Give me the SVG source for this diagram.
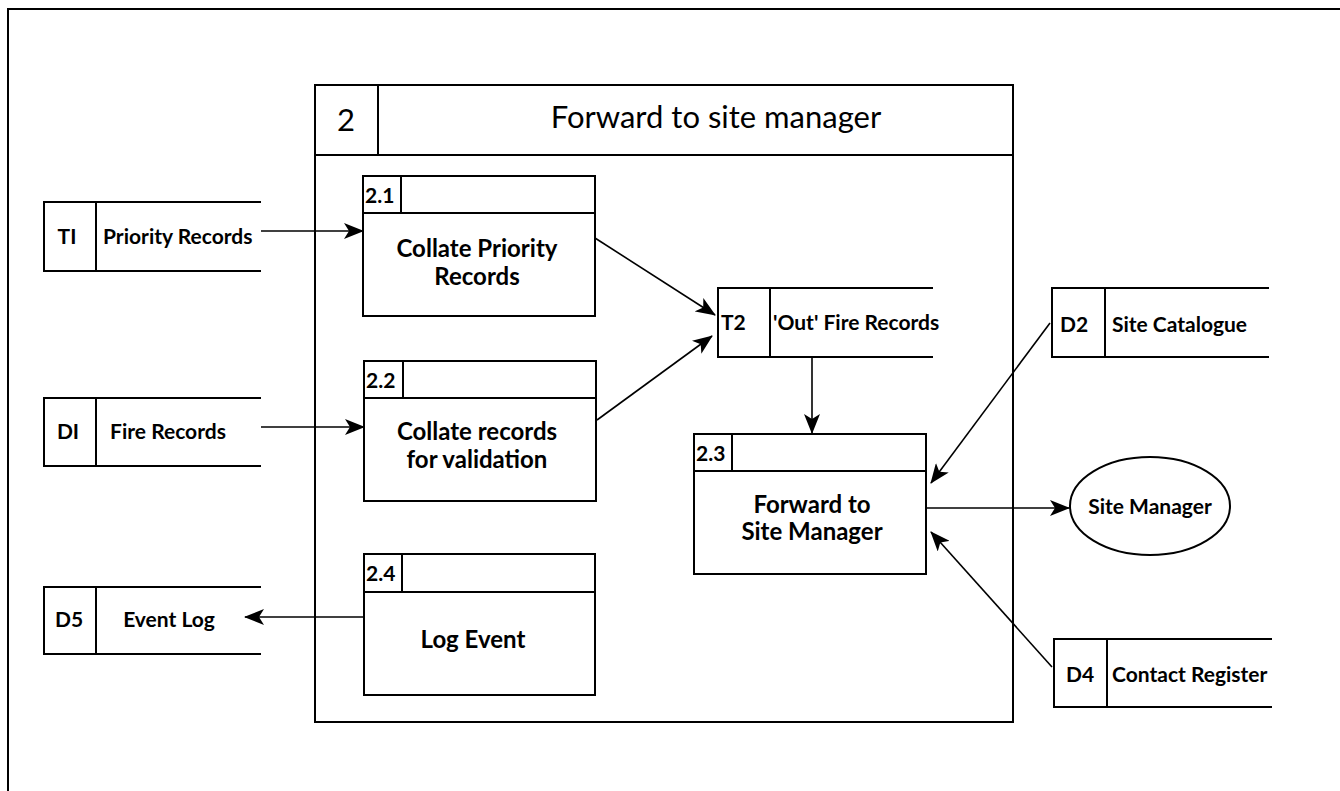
<svg xmlns="http://www.w3.org/2000/svg" width="1340" height="791" viewBox="0 0 1340 791">
<defs>
<style>
.b{fill:#fff;stroke:#000;stroke-width:2}
.l{fill:none;stroke:#000;stroke-width:2}
.c{fill:none;stroke:#000;stroke-width:1.6}
.t{font-family:Lato,"Open Sans",sans-serif;font-weight:bold;font-size:21px;fill:#000}
.p{font-size:24px}
.m{text-anchor:middle}
.h{font-family:Lato,"Open Sans",sans-serif;font-size:31px;fill:#000}
</style>
<marker id="a" viewBox="0 0 20 16" refX="19" refY="8" markerWidth="20" markerHeight="16" markerUnits="userSpaceOnUse" orient="auto">
<path d="M0,0 L20,8 L0,16 L5,8 Z" fill="#000"/>
</marker>
</defs>
<rect width="1340" height="791" fill="#fff"/>
<path class="l" d="M8,791 V9 H1340"/>

<g id="process-2">
<rect class="b" x="315" y="85" width="698" height="637"/>
<line class="l" x1="315" y1="155" x2="1013" y2="155" stroke-width="2.5"/>
<line class="l" x1="378" y1="85" x2="378" y2="155"/>
<text class="h m" x="346" y="131">2</text>
<text class="h m" x="716" y="128">Forward to site manager</text>
</g>

<g id="T1">
<path class="l" d="M261,202 H44 V271 H261 M96,202 V271"/>
<text class="t m" x="67" y="244">TI</text>
<text class="t" x="103" y="244">Priority Records</text>
</g>
<g id="D1">
<path class="l" d="M261,398 H44 V466 H261 M96,398 V466"/>
<text class="t m" x="68" y="439">DI</text>
<text class="t m" x="168" y="439">Fire Records</text>
</g>
<g id="D5">
<path class="l" d="M261,587 H44 V654 H261 M96,587 V654"/>
<text class="t m" x="69" y="627">D5</text>
<text class="t m" x="169" y="627">Event Log</text>
</g>

<g id="p2-1">
<rect class="b" x="363" y="176" width="232" height="140"/>
<path class="l" d="M363,213 H595 M401,176 V213"/>
<text class="t" x="365" y="203">2.1</text>
<text class="t p m" x="477" y="257">Collate Priority</text>
<text class="t p m" x="477" y="285">Records</text>
</g>
<g id="p2-2">
<rect class="b" x="364" y="361" width="232" height="140"/>
<path class="l" d="M364,398 H596 M403,361 V398"/>
<text class="t" x="366" y="388">2.2</text>
<text class="t p m" x="477" y="440">Collate records</text>
<text class="t p m" x="477" y="468">for validation</text>
</g>
<g id="p2-4">
<rect class="b" x="364" y="554" width="231" height="141"/>
<path class="l" d="M364,592 H595 M402,554 V592"/>
<text class="t" x="366" y="581">2.4</text>
<text class="t p m" x="473" y="648">Log Event</text>
</g>

<g id="T2">
<path class="l" d="M933,288 H718 V357 H933 M770,288 V357"/>
<text class="t" x="721" y="330">T2</text>
<text class="t" x="773" y="330">'Out' Fire Records</text>
</g>
<g id="p2-3">
<rect class="b" x="694" y="434" width="232" height="140"/>
<path class="l" d="M694,471 H926 M732,434 V471"/>
<text class="t" x="696" y="461">2.3</text>
<text class="t p m" x="812" y="513">Forward to</text>
<text class="t p m" x="812" y="540">Site Manager</text>
</g>

<g id="D2">
<path class="l" d="M1269,288 H1052 V357 H1269 M1105,288 V357"/>
<text class="t m" x="1074" y="332">D2</text>
<text class="t" x="1112" y="332">Site Catalogue</text>
</g>
<g id="D4">
<path class="l" d="M1272,639 H1054 V707 H1272 M1107,639 V707"/>
<text class="t m" x="1080" y="682">D4</text>
<text class="t" x="1112" y="682">Contact Register</text>
</g>

<g id="site-manager">
<ellipse class="b" cx="1150" cy="506" rx="80" ry="49"/>
<text class="t m" x="1150" y="514">Site Manager</text>
</g>

<g id="connectors">
<line class="c" x1="261" y1="231" x2="363" y2="231" marker-end="url(#a)" stroke-width="2.4"/>
<line class="c" x1="261" y1="427" x2="364" y2="427" marker-end="url(#a)"/>
<line class="c" x1="364" y1="617" x2="245" y2="617" marker-end="url(#a)"/>
<line class="c" x1="595" y1="238" x2="715" y2="315" marker-end="url(#a)"/>
<line class="c" x1="597" y1="420" x2="712" y2="336" marker-end="url(#a)"/>
<line class="c" x1="812" y1="357" x2="812" y2="433" marker-end="url(#a)"/>
<line class="c" x1="1050" y1="323" x2="931" y2="483" marker-end="url(#a)"/>
<line class="c" x1="926" y1="508" x2="1069" y2="508" marker-end="url(#a)"/>
<line class="c" x1="1052" y1="667" x2="931" y2="532" marker-end="url(#a)"/>
</g>
</svg>
